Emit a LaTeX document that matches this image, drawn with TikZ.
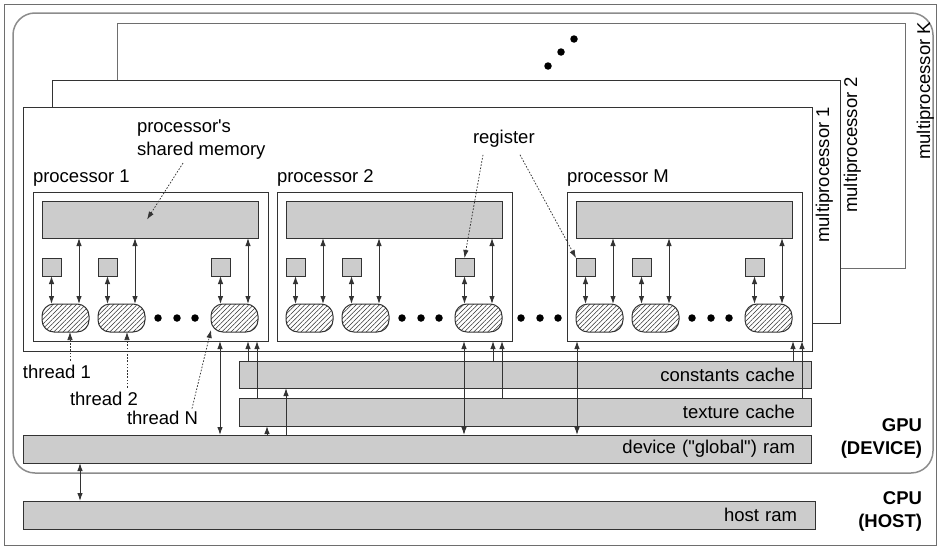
\documentclass[tikz,border=0pt]{standalone}
\usepackage{fontspec}
\setmainfont{Liberation Sans}[Ligatures=TeXOff]
\usetikzlibrary{arrows.meta,patterns.meta}
\definecolor{barfill}{HTML}{CCCCCC}
\definecolor{edgecol}{HTML}{333333}
\definecolor{framecol}{HTML}{6E6E6E}
\definecolor{gpucol}{HTML}{8C8C8C}
\begin{document}
\begin{tikzpicture}[x=1pt,y=-1pt,
  font=\fontsize{18.5}{22.5}\selectfont,
  >={Latex[length=8pt,width=5.5pt]},
  box/.style={draw=edgecol,line width=1pt,fill=white,inner sep=0pt,outer sep=0pt,anchor=north west},
  bar/.style={draw=edgecol,line width=1pt,fill=barfill,inner sep=0pt,outer sep=0pt,anchor=north west},
  thr/.style={draw=edgecol,line width=1pt,rounded corners=12pt,
    pattern={Lines[angle=45,distance=3.3pt,line width=0.55pt]},pattern color=black!80,
    inner sep=0pt,outer sep=0pt,anchor=north west,minimum width=47pt,minimum height=28pt},
  reg/.style={bar,minimum width=19pt,minimum height=18pt},
  lbl/.style={inner sep=0pt,outer sep=0pt},
  dbl/.style={<->,draw=edgecol,line width=1pt},
  arr/.style={->,draw=edgecol,line width=1pt},
  dotarr/.style={->,draw=edgecol,line width=0.75pt,dash pattern=on 1.6pt off 1.6pt},
  dot/.style={circle,fill=black,inner sep=0pt,minimum size=7.5pt}
]
\useasboundingbox (0,0) rectangle (938,549);
% outer frame and GPU region
\draw[framecol,line width=1pt] (4,4) rectangle (936,545);
\draw[gpucol,line width=1.5pt,rounded corners=22pt] (13,13) rectangle (933,473);

% multiprocessors
\node[box,draw=framecol,minimum width=788pt,minimum height=245pt] (mpK) at (117,23) {};
\node[box,minimum width=788pt,minimum height=243pt] (mp2) at (52,80) {};
\node[box,minimum width=789pt,minimum height=244pt] (mp1) at (23,107) {};
\node[lbl,rotate=90,anchor=base east] (mpKlab) at (930,22) {multiprocessor K};
\node[lbl,rotate=90,anchor=base east] (mp2lab) at (857,77) {multiprocessor 2};
\node[lbl,rotate=90,anchor=base east] (mp1lab) at (829,107) {multiprocessor 1};
\node[dot] (kd1) at (548,66) {};
\node[dot] (kd2) at (561,52) {};
\node[dot] (kd3) at (574,39) {};

% processors
\foreach \L/\n in {33/1,277/2,567/M}{
  \node[box,minimum width=235pt,minimum height=149pt] (box\n) at (\L,192) {};
  \node[lbl,anchor=base west] (pl\n) at (\L,182) {processor \n};
  \node[bar,minimum width=216pt,minimum height=37pt] (sm\n) at (\L+9,201) {};
  \node[reg] (ra\n) at (\L+9,258) {};
  \node[reg] (rb\n) at (\L+65,258) {};
  \node[reg] (rc\n) at (\L+178,258) {};
  \node[thr] (ta\n) at (\L+9,304) {};
  \node[thr] (tb\n) at (\L+65,304) {};
  \node[thr] (tc\n) at (\L+178,304) {};
  \node[dot] (da\n) at (\L+125,318) {};
  \node[dot] (db\n) at (\L+144,318) {};
  \node[dot] (dc\n) at (\L+162,318) {};
  \draw[dbl] (ra\n.south) -- (ra\n.south |- ta\n.north);
  \draw[dbl] (rb\n.south) -- (rb\n.south |- tb\n.north);
  \draw[dbl] (rc\n.south) -- (rc\n.south |- tc\n.north);
  \draw[dbl] ([xshift=-10pt]ta\n.north east) -- ([xshift=-10pt]ta\n.north east |- sm\n.south);
  \draw[dbl] ([xshift=-10pt]tb\n.north east) -- ([xshift=-10pt]tb\n.north east |- sm\n.south);
  \draw[dbl] ([xshift=-10pt]tc\n.north east) -- ([xshift=-10pt]tc\n.north east |- sm\n.south);
}
\node[dot] (pd1) at (521,318) {};
\node[dot] (pd2) at (540,318) {};
\node[dot] (pd3) at (558,318) {};

% memories
\node[bar,minimum width=572pt,minimum height=27pt,text width=540pt,align=right,inner xsep=16pt] (cc) at (239,361) {constants cache};
\node[bar,minimum width=572pt,minimum height=28pt,text width=540pt,align=right,inner xsep=16pt] (tx) at (239,398) {texture cache};
\node[bar,minimum width=788pt,minimum height=28pt,text width=756pt,align=right,inner xsep=15pt] (dev) at (23,435) {device ("global") ram};
\node[bar,minimum width=788pt,minimum height=28pt,text width=756pt,align=right,inner xsep=18pt] (host) at (23,501) {host ram};

\node[lbl,align=right,anchor=north east,font=\fontsize{18.5}{23}\selectfont\bfseries] (gpulab) at (922,419) {GPU\\(DEVICE)};
\node[lbl,align=right,anchor=north east,font=\fontsize{18.5}{23}\selectfont\bfseries] (cpulab) at (922,492) {CPU\\(HOST)};

% connections to memories
\draw[dbl] (220,0 |- box1.south) -- (220,0 |- dev.north);
\draw[arr] (248,0 |- cc.north) -- (248,0 |- box1.south);
\draw[arr] (257,0 |- tx.north) -- (257,0 |- box1.south);
\draw[arr] (267,0 |- dev.north) -- (267,0 |- tx.south);
\draw[arr] (286,0 |- dev.north) -- (286,0 |- cc.south);
\draw[dbl] (464,0 |- box2.south) -- (464,0 |- dev.north);
\draw[arr] (493,0 |- cc.north) -- (493,0 |- box2.south);
\draw[arr] (502,0 |- tx.north) -- (502,0 |- box2.south);
\draw[dbl] (577,0 |- boxM.south) -- (577,0 |- dev.north);
\draw[arr] (793,0 |- cc.north) -- (793,0 |- boxM.south);
\draw[arr] (802,0 |- tx.north) -- (802,0 |- boxM.south);
\draw[dbl] (80,0 |- dev.south) -- (80,0 |- host.north);

% annotation labels
\node[lbl,align=left,anchor=north west] (smlab) at (137,120) {processor's\\shared memory};
\node[lbl,anchor=base west] (reglab) at (473,143) {register};
\node[lbl,anchor=base west] (th1) at (23,378) {thread 1};
\node[lbl,anchor=base west] (th2) at (70,405) {thread 2};
\node[lbl,anchor=base west] (thN) at (127,424) {thread N};

\draw[dotarr] ([xshift=46pt,yshift=-4pt]smlab.south west) -- ([xshift=105pt]sm1.west);
\draw[dotarr] ([xshift=10pt,yshift=-8pt]reglab.south west) -- (rc2.north);
\draw[dotarr] ([xshift=47pt,yshift=-8pt]reglab.south west) -- (raM.north west);
\draw[dotarr] ([xshift=47pt,yshift=4pt]th1.north west) -- ([xshift=47pt]th1.north west |- ta1.south);
\draw[dotarr] ([xshift=57pt,yshift=4pt]th2.north west) -- ([xshift=57pt]th2.north west |- tb1.south);
\draw[dotarr] ([xshift=65pt,yshift=2pt]thN.north west) -- ([yshift=2pt]tc1.south west);
\end{tikzpicture}
\end{document}
